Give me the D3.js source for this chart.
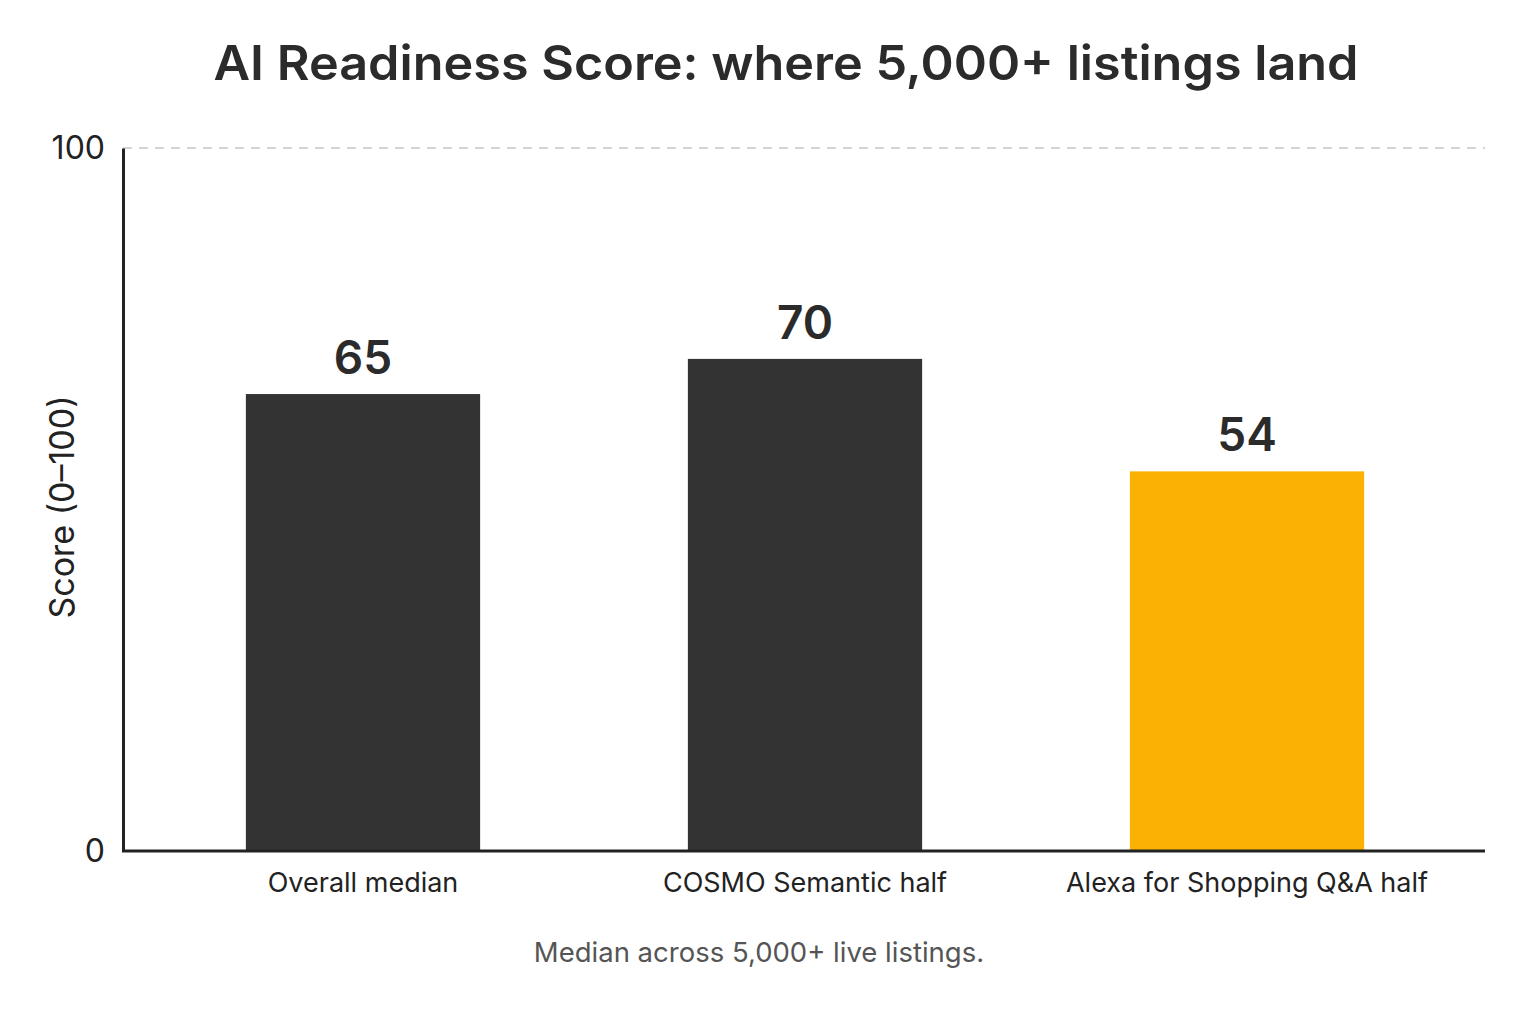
<!DOCTYPE html>
<html><head><meta charset="utf-8">
<script src="https://cdn.jsdelivr.net/npm/d3@7/dist/d3.min.js"></script>
<style>body{margin:0;background:#fff;} svg{display:block;}</style>
</head><body>
<svg id="c" width="1536" height="1024"></svg>
<script>
const categories = ["Overall median", "COSMO Semantic half", "Alexa for Shopping Q&A half"];
const values = [65, 70, 54];
const barColors = ["#333333", "#333333", "#FBB104"];
const yTicks = [0, 100];
const title = "AI Readiness Score: where 5,000+ listings land";
const yLabel = "Score (0–100)";
const footnote = "Median across 5,000+ live listings.";

const svg = d3.select("#c");
const font = "Inter, 'Noto Sans', sans-serif";
const x0 = 123, x1 = 1485, yTop = 148, yBot = 851;

const x = d3.scaleBand().domain(categories).range([142, 1468]).paddingInner(0.47).paddingOuter(0.235);
const y = d3.scaleLinear().domain([0, 100]).range([yBot, yTop]);

// title
svg.append("text").attr("x", 786).attr("y", 80).attr("text-anchor", "middle")
  .attr("font-family", font).attr("font-weight", 600).attr("font-size", 48).attr("fill", "#2b2b2b")
  .attr("textLength", 1145).attr("lengthAdjust", "spacingAndGlyphs").text(title);

// dashed gridline at top
svg.append("g").selectAll("line").data(yTicks.filter(d => d > 0)).join("line")
  .attr("x1", x0).attr("x2", x1).attr("y1", d => y(d)).attr("y2", d => y(d))
  .attr("stroke", "#d4d4d4").attr("stroke-width", 2).attr("stroke-dasharray", "9,7");

// bars
svg.append("g").selectAll("rect").data(values).join("rect")
  .attr("x", (d, i) => x(categories[i])).attr("width", x.bandwidth())
  .attr("y", d => y(d)).attr("height", d => y(0) - y(d))
  .attr("fill", (d, i) => barColors[i]);

// value labels
svg.append("g").selectAll("text").data(values).join("text")
  .attr("x", (d, i) => x(categories[i]) + x.bandwidth() / 2)
  .attr("y", d => y(d) - 20).attr("text-anchor", "middle")
  .attr("font-family", font).attr("font-weight", 600).attr("font-size", 46).attr("fill", "#2b2b2b")
  .text(d => d);

// y axis
const yAxis = d3.axisLeft(y).tickValues(yTicks).tickSize(0).tickPadding(18).tickFormat(d3.format("d"));
const gy = svg.append("g").attr("transform", `translate(${x0},0)`).call(yAxis);
gy.select(".domain").attr("stroke", "#222").attr("stroke-width", 3);
gy.selectAll("text").attr("font-family", font).attr("font-size", 32).attr("fill", "#222");

// x axis
const xAxis = d3.axisBottom(x).tickSize(0).tickPadding(22);
const gx = svg.append("g").attr("transform", `translate(0,${yBot})`).call(xAxis);
gx.select(".domain").remove();
gx.append("line").attr("x1", x0 - 1).attr("x2", x1).attr("y1", 0).attr("y2", 0)
  .attr("stroke", "#222").attr("stroke-width", 3);
gx.selectAll(".tick text").attr("font-family", font).attr("font-size", 27).attr("fill", "#222");

// y label
svg.append("text").attr("transform", `translate(74,507) rotate(-90)`).attr("text-anchor", "middle")
  .attr("font-family", font).attr("font-size", 34).attr("fill", "#222").text(yLabel);

// footnote
svg.append("text").attr("x", 759).attr("y", 962).attr("text-anchor", "middle")
  .attr("font-family", font).attr("font-size", 27.5).attr("fill", "#555").text(footnote);
</script>
</body></html>
